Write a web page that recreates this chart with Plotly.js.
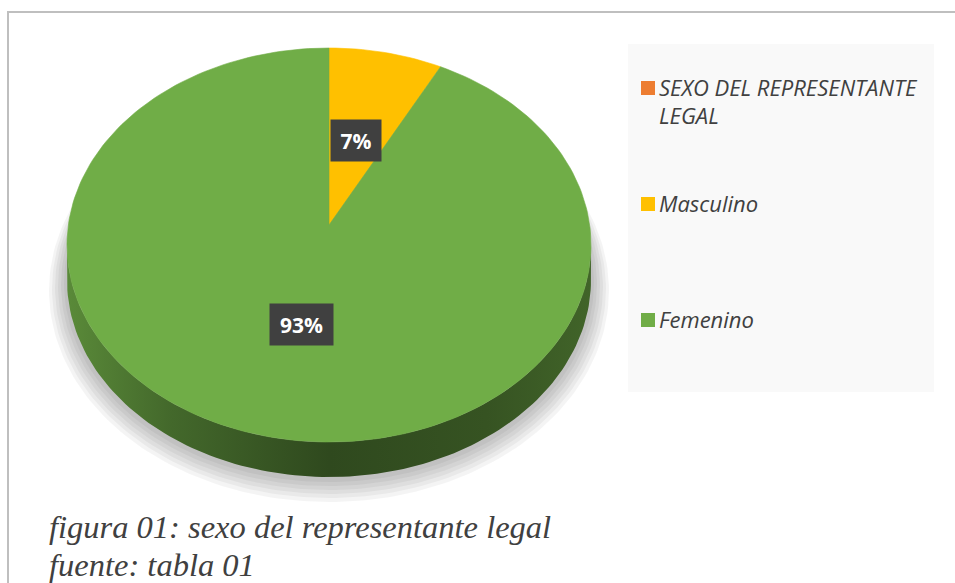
<!DOCTYPE html>
<html>
<head>
<meta charset="utf-8">
<script src="https://cdn.plot.ly/plotly-3.0.1.min.js"></script>
<style>html,body{margin:0;padding:0;background:#fff;}#chart{width:955px;height:583px;}</style>
</head>
<body>
<div id="chart"></div>
<script>
// ---- data ----
const categories = ["SEXO DEL REPRESENTANTE LEGAL", "Masculino", "Femenino"];
const values = [0, 7, 93];
const sliceColors = ["#ED7D31", "#FFC000", "#70AD47"];
const captionLines = ["figura 01: sexo del representante legal", "fuente: tabla 01"];

// ---- geometry / style ----
const W = 955, H = 583;
const CX = 329, CY = 245, RX = 262, RY = 197, DEPTH = 35, APEX_DY = -20;
const N = 240;
const total = values.reduce((a, b) => a + b, 0);
const deg = Math.PI / 180;

function rim(theta, dy) { // theta clockwise from top, degrees
  return [CX + RX * Math.sin(theta * deg), CY - RY * Math.cos(theta * deg) + (dy || 0)];
}
function arc(a0, a1, dy) {
  const pts = [];
  const n = Math.max(2, Math.ceil(Math.abs(a1 - a0) / 360 * N));
  for (let i = 0; i <= n; i++) pts.push(rim(a0 + (a1 - a0) * i / n, dy));
  return pts;
}
function darker(hex, f) {
  const n = parseInt(hex.slice(1), 16);
  const r = Math.round(((n >> 16) & 255) * f), g = Math.round(((n >> 8) & 255) * f), b = Math.round((n & 255) * f);
  return `rgb(${r},${g},${b})`;
}

const traces = [];

// soft shadow
for (let k = 5; k >= 0; k--) {
  const pts = [];
  for (let i = 0; i <= N; i++) {
    const t = i / N * 360 * deg;
    pts.push([CX + (RX + 3 + k * 3) * Math.sin(t), CY + 38 + k * 1.5 - (RY + 2 + k * 2.5) * Math.cos(t)]);
  }
  traces.push({
    type: "scatter", mode: "lines", x: pts.map(p => p[0]), y: pts.map(p => p[1]),
    fill: "toself", fillcolor: "rgba(0,0,0,0.045)", line: { width: 0 },
    hoverinfo: "skip", showlegend: false
  });
}

// slices: sides then tops
let start = 0;
const slices = values.map((v, i) => {
  const a0 = start, a1 = start + v / total * 360;
  start = a1;
  return { a0, a1, v, i };
});

slices.forEach(s => {
  if (s.v <= 0) return;
  const lo = Math.max(s.a0, 90), hi = Math.min(s.a1, 270);
  if (hi <= lo) return;
  const top = arc(lo, hi, 0), bot = arc(hi, lo, DEPTH);
  const pts = top.concat(bot);
  pts.push(top[0]);
  const base = sliceColors[s.i];
  traces.push({
    type: "scatter", mode: "lines", x: pts.map(p => p[0]), y: pts.map(p => p[1]),
    fill: "toself", line: { width: 0 },
    fillgradient: {
      type: "horizontal",
      colorscale: [[0, darker(base, 0.8)], [0.2, darker(base, 0.6)], [0.5, darker(base, 0.42)], [0.8, darker(base, 0.48)], [1, darker(base, 0.58)]]
    },
    hoverinfo: "skip", showlegend: false
  });
});

slices.forEach(s => {
  if (s.v <= 0) return;
  const pts = [[CX, CY + APEX_DY]].concat(arc(s.a0, s.a1, 0));
  pts.push([CX, CY + APEX_DY]);
  traces.push({
    type: "scatter", mode: "lines", x: pts.map(p => p[0]), y: pts.map(p => p[1]),
    fill: "toself", fillcolor: sliceColors[s.i], line: { width: 0.6, color: sliceColors[s.i] },
    name: categories[s.i], hoverinfo: "name", showlegend: false
  });
});

// ---- annotations ----
const annotations = [];
const shapes = [];

// data labels
slices.forEach(s => {
  if (s.v <= 0) return;
  const mid = (s.a0 + s.a1) / 2;
  const r = rim(mid, 0);
  const ax = CX + (r[0] - CX) * 0.48, ay = CY + APEX_DY + (r[1] - CY - APEX_DY) * 0.48;
  const txt = Math.round(s.v / total * 100) + "%";
  annotations.push({
    x: ax, y: ay - 2, xref: "x", yref: "y", text: "<b>" + txt + "</b>", showarrow: false,
    font: { family: "Open Sans", size: 21, color: "#ffffff" },
    bgcolor: "#404040", width: txt.length > 2 ? 61 : 48, height: 39, borderpad: 1
  });
});

// legend panel
shapes.push({ type: "rect", xref: "x", yref: "y", x0: 628, x1: 934, y0: 44, y1: 392, fillcolor: "#f9f9f9", line: { width: 0 }, layer: "below" });
const legendBase = [95, 211, 327];
categories.forEach((c, i) => {
  const base = legendBase[i];
  const lines = i === 0 ? c.replace(" LEGAL", "|LEGAL").split("|") : [c];
  shapes.push({ type: "rect", xref: "x", yref: "y", x0: 641, x1: 655, y0: base - 14, y1: base, fillcolor: sliceColors[i], line: { width: 0 } });
  lines.forEach((t, j) => {
    annotations.push({
      x: 657, y: base + j * 28 + 9, xref: "x", yref: "y", xanchor: "left", yanchor: "bottom",
      text: "<i>" + t + "</i>", showarrow: false,
      font: { family: "Open Sans", size: 22, color: "#404040" }
    });
  });
});

// caption
captionLines.forEach((t, j) => {
  annotations.push({
    x: 47, y: 537 + j * 38 - 10.5, xref: "x", yref: "y", xanchor: "left", yanchor: "middle",
    text: "<i>" + t + "</i>", showarrow: false,
    font: { family: "Liberation Serif", size: 32.5, color: "#404040" }
  });
});

// outer frame
shapes.push({ type: "rect", xref: "x", yref: "y", x0: 8, x1: 970, y0: 12, y1: 600, line: { color: "#bfbfbf", width: 2 }, fillcolor: "rgba(0,0,0,0)" });

const layout = {
  width: W, height: H, margin: { l: 0, r: 0, t: 0, b: 0 },
  paper_bgcolor: "#ffffff", plot_bgcolor: "#ffffff",
  xaxis: { range: [0, W], visible: false, fixedrange: true },
  yaxis: { range: [H, 0], visible: false, fixedrange: true },
  showlegend: false, shapes, annotations
};

Plotly.newPlot("chart", traces, layout, { displayModeBar: false, staticPlot: true });
</script>
</body>
</html>
